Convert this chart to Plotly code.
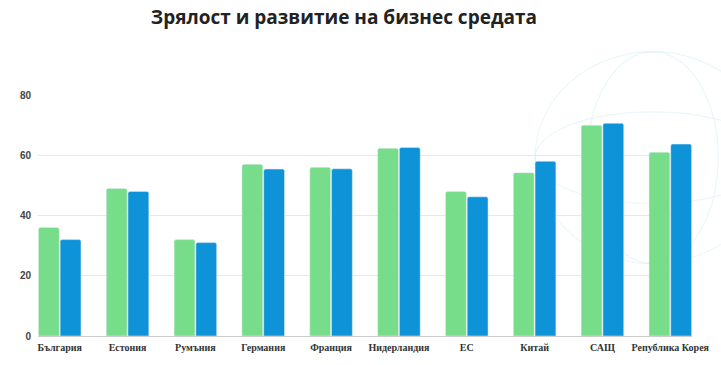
import plotly.graph_objects as go

categories = ["България", "Естония", "Румъния", "Германия", "Франция",
              "Нидерландия", "ЕС", "Китай", "САЩ", "Република Корея"]
series_a = [36, 49, 32, 57, 56, 62.3, 48, 54.2, 70, 61]
series_b = [32, 48, 31, 55.4, 55.5, 62.6, 46.2, 58, 70.6, 63.7]
y_ticks = [0, 20, 40, 60, 80]
title_text = "Зрялост и развитие на бизнес средата"

fig = go.Figure()
fig.add_trace(go.Bar(x=categories, y=series_a, marker=dict(color="#77DD8A", cornerradius=2),
                     showlegend=False))
fig.add_trace(go.Bar(x=categories, y=series_b, marker=dict(color="#0E93D8", cornerradius=2),
                     showlegend=False))

# faint globe watermark (decorative)
wm = "rgba(190,225,240,0.3)"
shapes = [
    dict(type="circle", xref="paper", yref="paper", x0=0.76, x1=1.12, y0=0.30, y1=1.18,
         line=dict(color=wm, width=1.2), layer="below"),
    dict(type="circle", xref="paper", yref="paper", x0=0.84, x1=1.04, y0=0.30, y1=1.18,
         line=dict(color=wm, width=1.2), layer="below"),
    dict(type="circle", xref="paper", yref="paper", x0=0.76, x1=1.12, y0=0.55, y1=0.93,
         line=dict(color=wm, width=1.2), layer="below"),
]

fig.update_layout(
    width=721, height=365,
    margin=dict(l=38, r=21, t=95, b=29),
    paper_bgcolor="white", plot_bgcolor="rgba(0,0,0,0)",
    barmode="group", bargap=0.36, bargroupgap=0.04,
    title=dict(text=title_text, x=0.477, xanchor="center", y=0.953, yanchor="middle",
               yref="container",
               font=dict(family="Open Sans", size=19, color="#222222", weight="bold")),
    xaxis=dict(range=[-0.32, 9.32], showgrid=False, ticks="", showline=False,
               ticklabelstandoff=4,
               tickfont=dict(family="Liberation Serif", size=10, color="#333333", weight="bold")),
    yaxis=dict(range=[0, 80], tickvals=y_ticks, showgrid=True, gridcolor="#e8e8e8",
               zeroline=True, zerolinecolor="#cccccc", zerolinewidth=1,
               ticklabelstandoff=6,
               tickfont=dict(family="Liberation Sans", size=10, color="#444444", weight="bold")),
    shapes=shapes,
)

fig.write_html("out.html", config={"displayModeBar": False},
               post_script="document.body.style.margin='0';")
